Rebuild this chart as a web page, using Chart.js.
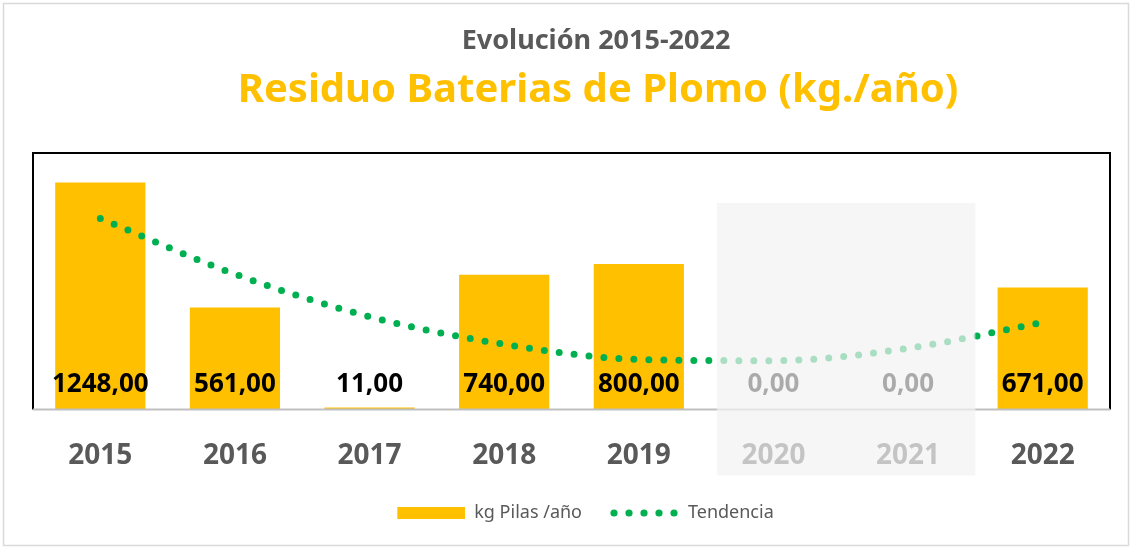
<!DOCTYPE html>
<html>
<head>
<meta charset="utf-8">
<script src="https://cdn.jsdelivr.net/npm/chart.js@4"></script>
<style>
  html, body { margin: 0; padding: 0; background: #fff; }
  #wrap { width: 1132px; height: 549px; }
</style>
</head>
<body>
<div id="wrap"><canvas id="chart" width="1132" height="549"></canvas></div>
<script>
const years = ['2015', '2016', '2017', '2018', '2019', '2020', '2021', '2022'];
const kgValues = [1248, 561, 11, 740, 800, 0, 0, 671];
// trend line (Excel polynomial trend)
const trendValues = [1050, 744, 510, 358, 275, 268, 336, 478];
const greyedYears = ['2020', '2021'];
const seriesNames = ['kg Pilas /año', 'Tendencia'];

const ORANGE = '#FFC000';
const GREEN = '#00B050';
const DARKGREY = '#595959';

// legend swatches (transparent left margin gives the gap between items)
function barSwatch() {
    const c = document.createElement('canvas');
    c.width = 96; c.height = 12;
    const g = c.getContext('2d');
    g.fillStyle = ORANGE;
    g.fillRect(28, 0, 68, 12);
    return c;
}
function dotSwatch() {
    const c = document.createElement('canvas');
    c.width = 96; c.height = 10;
    const g = c.getContext('2d');
    g.fillStyle = GREEN;
    for (let i = 0; i < 5; i++) {
        g.beginPath();
        g.arc(31 + i * 15, 5, 3.6, 0, Math.PI * 2);
        g.fill();
    }
    return c;
}

const framePlugin = {
    id: 'frame',
    beforeDraw(chart) {
        const ctx = chart.ctx;
        ctx.save();
        ctx.fillStyle = '#ffffff';
        ctx.fillRect(0, 0, chart.width, chart.height);
        ctx.strokeStyle = '#d9d9d9';
        ctx.lineWidth = 1.5;
        ctx.strokeRect(3.5, 3.5, chart.width - 7, chart.height - 7);

        // titles
        ctx.textAlign = 'center';
        ctx.textBaseline = 'alphabetic';
        ctx.fillStyle = DARKGREY;
        ctx.font = "bold 27px 'Noto Sans'";
        ctx.fillText('Evolución 2015-2022', 596, 49);
        ctx.fillStyle = ORANGE;
        ctx.font = "bold 40px 'Noto Sans'";
        ctx.fillText('Residuo Baterias de Plomo (kg./año)', 598, 102);
        ctx.restore();
    },
    afterDatasetsDraw(chart) {
        const ctx = chart.ctx;
        const area = chart.chartArea;
        // plot frame: black top/left/right, grey bottom axis
        ctx.save();
        ctx.strokeStyle = '#000000';
        ctx.lineWidth = 2;
        ctx.beginPath();
        ctx.moveTo(area.left, area.bottom);
        ctx.lineTo(area.left, area.top);
        ctx.lineTo(area.right, area.top);
        ctx.lineTo(area.right, area.bottom);
        ctx.stroke();
        ctx.strokeStyle = '#bfbfbf';
        ctx.beginPath();
        ctx.moveTo(area.left, area.bottom);
        ctx.lineTo(area.right, area.bottom);
        ctx.stroke();

        // data labels at the foot of each bar
        const meta = chart.getDatasetMeta(0);
        const base = chart.scales.y.getPixelForValue(0);
        ctx.fillStyle = '#000000';
        ctx.font = "bold 26px 'Noto Sans'";
        ctx.textAlign = 'center';
        ctx.textBaseline = 'middle';
        meta.data.forEach((bar, i) => {
            ctx.fillText(kgValues[i].toFixed(2).replace('.', ','), bar.x, base - 25);
        });
        ctx.restore();
    },
    afterDraw(chart) {
        // pale box over the missing years
        const ctx = chart.ctx;
        const x = chart.scales.x;
        const area = chart.chartArea;
        const i0 = years.indexOf(greyedYears[0]);
        const i1 = years.indexOf(greyedYears[greyedYears.length - 1]);
        const step = x.getPixelForValue(1) - x.getPixelForValue(0);
        const left = x.getPixelForValue(i0) - 0.42 * step;
        const right = x.getPixelForValue(i1) + 0.5 * step;
        ctx.save();
        ctx.fillStyle = 'rgba(242, 242, 242, 0.7)';
        ctx.fillRect(left, area.top + 50, right - left, area.bottom - area.top + 16);
        ctx.restore();
    }
};

new Chart(document.getElementById('chart'), {
    data: {
        labels: years,
        datasets: [
            {
                type: 'bar',
                label: seriesNames[0],
                data: kgValues,
                backgroundColor: ORANGE,
                categoryPercentage: 1,
                barPercentage: 0.67,
                order: 2
            },
            {
                type: 'line',
                label: seriesNames[1],
                data: trendValues,
                borderColor: GREEN,
                borderWidth: 7,
                borderDash: [0, 15],
                borderCapStyle: 'round',
                pointRadius: 0,
                cubicInterpolationMode: 'monotone',
                fill: false,
                order: 1
            }
        ]
    },
    options: {
        responsive: false,
        animation: false,
        layout: {
            padding: { top: 153, left: 33, right: 22, bottom: 17 }
        },
        plugins: {
            title: { display: false },
            tooltip: { enabled: false },
            legend: {
                display: true,
                position: 'bottom',
                labels: {
                    usePointStyle: true,
                    pointStyleWidth: 96,
                    padding: 1,
                    color: DARKGREY,
                    font: { size: 18, family: "'Noto Sans'" },
                    generateLabels() {
                        const styles = [barSwatch(), dotSwatch()];
                        return seriesNames.map((name, i) => ({
                            text: name,
                            fontColor: DARKGREY,
                            pointStyle: styles[i],
                            hidden: false,
                            datasetIndex: i,
                            lineWidth: 0
                        }));
                    }
                }
            }
        },
        scales: {
            x: {
                grid: { display: false, drawTicks: false },
                border: { display: false },
                ticks: {
                    padding: 30,
                    color: DARKGREY,
                    font: { size: 28, weight: 'bold', family: "'Noto Sans'" }
                }
            },
            y: {
                display: false,
                min: 0,
                max: 1410
            }
        }
    },
    plugins: [framePlugin]
});
</script>
</body>
</html>
